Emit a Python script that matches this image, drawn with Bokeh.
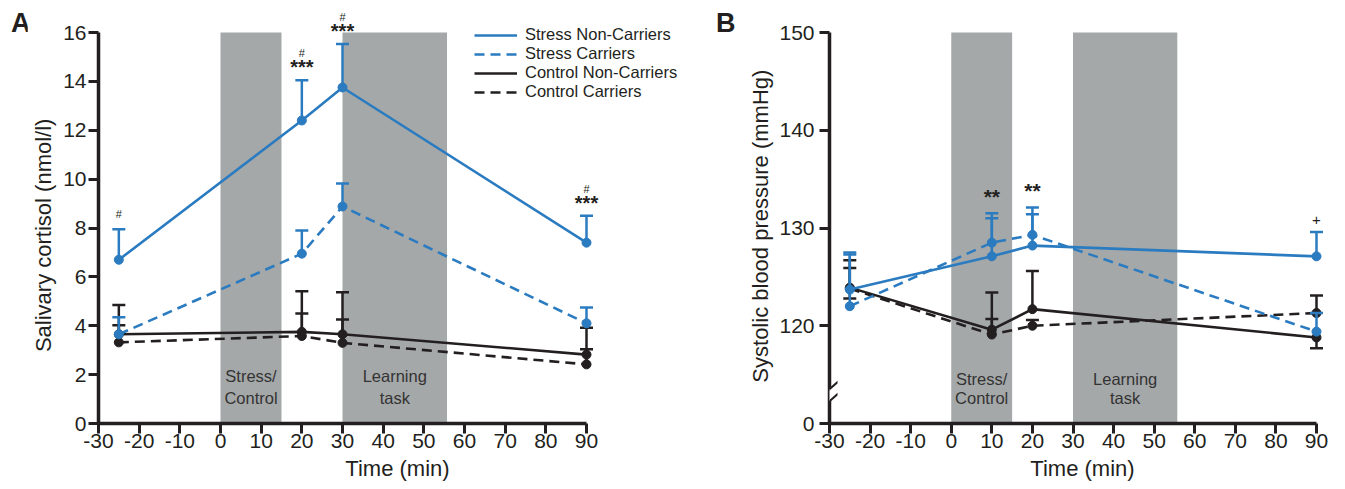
from bokeh.plotting import figure
from bokeh.models import (FixedTicker, Legend, LegendItem, Label, PolyAnnotation, Range1d, Div)
from bokeh.layouts import row
from bokeh.embed import file_html
from bokeh.resources import INLINE
from bokeh.core.properties import value

# ---------------- Data: panel A (salivary cortisol, nmol/l) ----------------
time_a = [-25, 20, 30, 90]
cort_stress_nc = [6.7, 12.4, 13.75, 7.4]
cort_stress_nc_up = [1.25, 1.65, 1.78, 1.1]
cort_stress_c = [3.65, 6.95, 8.88, 4.1]
cort_stress_c_up = [0.7, 0.95, 0.94, 0.65]
cort_ctrl_nc = [3.65, 3.75, 3.65, 2.82]
cort_ctrl_nc_up = [1.2, 1.66, 1.72, 1.1]
cort_ctrl_c = [3.32, 3.58, 3.3, 2.42]
cort_ctrl_c_up = [0.7, 0.92, 0.96, 0.62]
sig_a_stars = ["", "***", "***", "***"]
sig_a_hash = ["#", "#", "#", "#"]

# ---------------- Data: panel B (systolic blood pressure, mmHg) ----------------
time_b = [-25, 10, 20, 90]
bp_stress_nc = [123.7, 127.1, 128.2, 127.1]
bp_stress_nc_up = [3.8, 3.9, 3.2, 2.5]
bp_stress_c = [122.0, 128.5, 129.3, 119.4]
bp_stress_c_up = [5.3, 3.0, 2.8, 1.9]
bp_ctrl_nc = [123.9, 119.6, 121.7, 118.8]
bp_ctrl_nc_up = [2.8, 3.8, 3.9, 0.0]
bp_ctrl_nc_dn = [0.0, 0.0, 0.0, 1.1]
bp_ctrl_c = [123.8, 119.1, 120.0, 121.3]
bp_ctrl_c_up = [2.1, 1.6, 0.6, 1.8]
bp_ctrl_c_dn = [1.0, 0.0, 0.0, 0.0]
sig_b_marks = ["", "**", "**", "+"]

# phases (shaded)
phase_start = [0, 30]
phase_end = [15, 55.7]
phase_label_top = ["Stress/", "Learning"]
phase_label_bottom = ["Control", "task"]
x_ticks = [-30, -20, -10, 0, 10, 20, 30, 40, 50, 60, 70, 80, 90]

BLUE = "#2b7bc0"
BLACK = "#231f20"
GREY = "#a5a8a9"
FONT = "Liberation Sans"
NBSP = "\u00a0"


def style_axes(p, ylabel, label_standoff, ylab_standoff):
    p.outline_line_color = None
    p.xgrid.visible = False
    p.ygrid.visible = False
    p.background_fill_color = "white"
    p.border_fill_color = "white"
    p.xaxis.ticker = FixedTicker(ticks=x_ticks)
    p.xaxis.bounds = (-30, 90)
    p.xaxis.major_label_overrides = {t: str(t) for t in x_ticks}
    p.xaxis.axis_label = "Time (min)"
    p.yaxis.axis_label = ylabel
    for ax in (p.xaxis[0], p.yaxis[0]):
        ax.axis_line_width = 3.5
        ax.axis_line_color = BLACK
        ax.major_tick_line_width = 3
        ax.major_tick_line_color = BLACK
        ax.major_tick_in = 0
        ax.major_tick_out = 10
        ax.minor_tick_out = 0
        ax.minor_tick_in = 0
        ax.major_label_text_font = FONT
        ax.major_label_text_font_size = "21px"
        ax.major_label_text_color = BLACK
        ax.axis_label_text_font = FONT
        ax.axis_label_text_font_size = "22px"
        ax.axis_label_text_font_style = "normal"
        ax.axis_label_text_color = BLACK
    p.xaxis.major_label_standoff = 0
    p.xaxis.axis_label_standoff = 5
    p.yaxis.major_label_standoff = label_standoff
    p.yaxis.axis_label_standoff = ylab_standoff


def draw_series(p, x, y, up, color, dash, dn=None):
    tops = [yy + u for yy, u in zip(y, up)]
    sx = [xx for xx, u in zip(x, up) if u > 0]
    sy = [yy for yy, u in zip(y, up) if u > 0]
    st = [t for t, u in zip(tops, up) if u > 0]
    p.segment(x0=sx, y0=sy, x1=sx, y1=st, line_color=color, line_width=2.5)
    p.scatter(sx, st, marker="dash", size=13, line_color=color, line_width=2.5)
    if dn is not None:
        bx = [xx for xx, d in zip(x, dn) if d > 0]
        by = [yy for yy, d in zip(y, dn) if d > 0]
        bb = [yy - d for yy, d in zip(y, dn) if d > 0]
        p.segment(x0=bx, y0=by, x1=bx, y1=bb, line_color=color, line_width=2.5)
        p.scatter(bx, bb, marker="dash", size=13, line_color=color, line_width=2.5)
    r = p.line(x, y, line_color=color, line_width=2.6, line_dash=dash)
    p.scatter(x, y, marker="circle", size=9, fill_color=color, line_color=color)
    return r


def phase_shading(p, ymin, ymax, y_top, y_bot):
    p.quad(left=phase_start, right=phase_end, bottom=ymin, top=ymax,
           fill_color=GREY, line_color=None)
    centers = [(a + b) / 2 for a, b in zip(phase_start, phase_end)]
    p.text(x=centers, y=[y_top] * 2, text=phase_label_top, text_align="center",
           text_baseline="middle", text_font=value(FONT), text_font_size="16.5px",
           text_color="#333333")
    p.text(x=centers, y=[y_bot] * 2, text=phase_label_bottom, text_align="center",
           text_baseline="middle", text_font=value(FONT), text_font_size="16.5px",
           text_color="#333333")


def panel_letter(letter, left_pad, width):
    return Div(text=letter, width=width, height=30, margin=(10, 0, 0, left_pad),
               styles={"font-family": FONT, "font-size": "27px", "font-weight": "bold",
                       "line-height": "1", "color": BLACK, "overflow": "visible"})


TOP_PAD = 22  # pixels of frame above the top tick

# ================= Panel A =================
pxu_a = 488 / 120.0          # pixels per minute
ua = 16 / 391.0              # nmol/l per pixel
fw_a = 598
pa = figure(frame_width=fw_a, frame_height=391 + TOP_PAD,
            x_range=Range1d(-30, -30 + fw_a / pxu_a), y_range=Range1d(0, 16 + TOP_PAD * ua),
            output_backend="svg", toolbar_location=None,
            min_border_left=71, min_border_right=4, min_border_top=10, min_border_bottom=40)
# trailing no-break spaces centre the label on the 0-16 axis instead of the padded frame
style_axes(pa, "Salivary cortisol (nmol/l)" + NBSP * 6, 2, 4)
pa.yaxis.ticker = FixedTicker(ticks=[0, 2, 4, 6, 8, 10, 12, 14, 16])
pa.yaxis.bounds = (0, 16)
phase_shading(pa, 0, 16, 1.95, 1.05)
r_cnc = draw_series(pa, time_a, cort_ctrl_nc, cort_ctrl_nc_up, BLACK, "solid")
r_cc = draw_series(pa, time_a, cort_ctrl_c, cort_ctrl_c_up, BLACK, "10 6")
r_sc = draw_series(pa, time_a, cort_stress_c, cort_stress_c_up, BLUE, "10 6")
r_snc = draw_series(pa, time_a, cort_stress_nc, cort_stress_nc_up, BLUE, "solid")

tops_a = [y + u for y, u in zip(cort_stress_nc, cort_stress_nc_up)]
for xx, t, st, hs in zip(time_a, tops_a, sig_a_stars, sig_a_hash):
    if st:
        pa.add_layout(Label(x=xx, y=t + 13 * ua, text=st, text_align="center",
                            text_baseline="middle", text_font=FONT,
                            text_font_size="20px", text_font_style="bold", text_color=BLACK))
        hy = t + 27 * ua
    else:
        hy = t + 15 * ua
    pa.add_layout(Label(x=xx, y=hy, text=hs, text_align="center", text_baseline="middle",
                        text_font=FONT, text_font_size="11px", text_color=BLACK))

legend = Legend(items=[
    LegendItem(label="Stress Non-Carriers", renderers=[r_snc]),
    LegendItem(label="Stress Carriers", renderers=[r_sc]),
    LegendItem(label="Control Non-Carriers", renderers=[r_cnc]),
    LegendItem(label="Control Carriers", renderers=[r_cc]),
], location=(376, 322), padding=0, spacing=0, margin=0, glyph_width=43,
    glyph_height=18, label_height=18, label_standoff=8,
    label_text_font=FONT, label_text_font_size="16.5px", label_text_color=BLACK,
    border_line_color=None, background_fill_alpha=0)
pa.add_layout(legend)

# ================= Panel B =================
pxu_b = 487 / 120.0
ub = 40 / 391.0
fw_b = 506
pb = figure(frame_width=fw_b, frame_height=391 + TOP_PAD,
            x_range=Range1d(-30, -30 + fw_b / pxu_b),
            y_range=Range1d(110, 150 + TOP_PAD * ub),
            output_backend="svg", toolbar_location=None,
            min_border_left=89, min_border_right=5, min_border_top=10, min_border_bottom=40)
style_axes(pb, "Systolic blood pressure (mmHg)" + NBSP * 3, 5, 3)
pb.yaxis.ticker = FixedTicker(ticks=[110, 120, 130, 140, 150])
pb.yaxis.bounds = (110, 150)
pb.yaxis.major_label_overrides = {110: "0"}
phase_shading(pb, 110, 150, 114.6, 112.6)
draw_series(pb, time_b, bp_ctrl_nc, bp_ctrl_nc_up, BLACK, "solid", bp_ctrl_nc_dn)
draw_series(pb, time_b, bp_ctrl_c, bp_ctrl_c_up, BLACK, "10 6", bp_ctrl_c_dn)
draw_series(pb, time_b, bp_stress_c, bp_stress_c_up, BLUE, "10 6")
draw_series(pb, time_b, bp_stress_nc, bp_stress_nc_up, BLUE, "solid")

for xx, a, ua_, b, ub_, mk in zip(time_b, bp_stress_nc, bp_stress_nc_up, bp_stress_c,
                                  bp_stress_c_up, sig_b_marks):
    if not mk:
        continue
    t = max(a + ua_, b + ub_)
    size = "21px" if mk == "**" else "15px"
    off = 17 if mk == "**" else 12
    pb.add_layout(Label(x=xx, y=t + off * ub, text=mk, text_align="center",
                        text_baseline="middle", text_font=FONT, text_font_size=size,
                        text_font_style="bold" if mk == "**" else "normal", text_color=BLACK))

# axis break marks
px = 1 / pxu_b
x0, x1 = -30 - 7 * px, -30 + 8 * px
ylo = [110 + (421.3 - 405) * ub, 110 + (421.3 - 392) * ub]
yhi = [110 + (421.3 - 393) * ub, 110 + (421.3 - 380) * ub]
pb.add_layout(PolyAnnotation(xs=[x0, x1, x1, x0], ys=[ylo[0], ylo[1], yhi[1], yhi[0]],
                             fill_color="white", fill_alpha=1, line_color=None, level="overlay"))
for (ya, yb) in (ylo, yhi):
    h = 1.4 * ub
    pb.add_layout(PolyAnnotation(xs=[x0, x1, x1, x0], ys=[ya - h, yb - h, yb + h, ya + h],
                                 fill_color=BLACK, fill_alpha=1, line_color=None,
                                 level="overlay"))

layout = row(panel_letter("A", 11, 16), pa, panel_letter("B", 16, 24), pb)
open("out.html", "w").write(file_html(layout, INLINE))
